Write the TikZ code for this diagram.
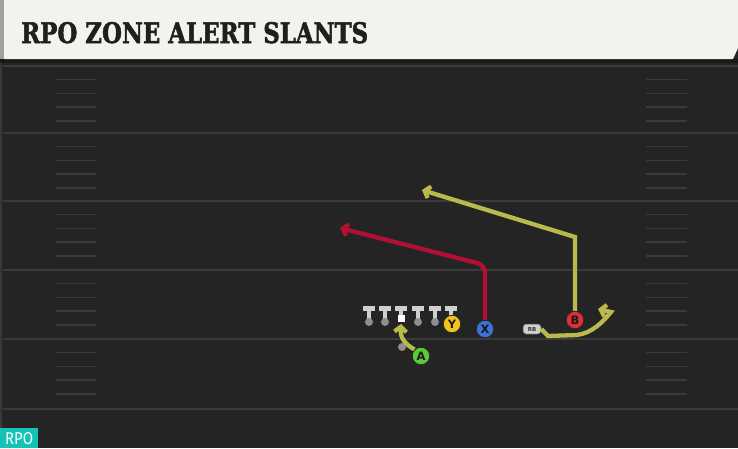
\documentclass[tikz,border=0pt]{standalone}
\usepackage{fontspec}
\setmainfont{DejaVu Sans}
\newfontfamily\titlefont{DejaVu Serif}[BoldFeatures={FakeBold=2}]
\newfontfamily\badgefont{Fira Sans}
\usetikzlibrary{arrows.meta}
\definecolor{fieldc}{HTML}{242424}
\definecolor{yardc}{HTML}{3A3A3A}
\definecolor{creamc}{HTML}{F4F2EC}
\definecolor{stripc}{HTML}{A0A0A0}
\definecolor{yelroute}{HTML}{BABA4C}
\definecolor{redroute}{HTML}{B21032}
\definecolor{cA}{HTML}{5DC83A}
\definecolor{cY}{HTML}{F2C51C}
\definecolor{cX}{HTML}{3A72D6}
\definecolor{cB}{HTML}{DE2F3A}
\definecolor{tealc}{HTML}{14C3B5}
\definecolor{tbar}{HTML}{CFCFCF}
\definecolor{tdot}{HTML}{8E8E8E}
\begin{document}
\begin{tikzpicture}[x=1pt,y=-1pt,
  yardline/.style={draw=yardc, line width=2pt},
  hashmark/.style={draw=yardc, line width=1.5pt},
  routebase/.style={line width=4.3pt, -{Straight Barb[length=5pt,width=12pt]}},
  yroute/.style={routebase, draw=yelroute},
  rroute/.style={routebase, draw=redroute},
  player/.style={circle, draw=black!85, line width=0.8pt, minimum size=17.5pt, inner sep=0pt,
    font=\bfseries\fontsize{11.5}{11.5}\selectfont, text=black!90},
]
\useasboundingbox (0,0) rectangle (738,448);
\fill[fieldc] (0,0) rectangle (738,448);
% left edge
\draw[yardc, line width=2pt] (1,59) -- (1,448);
% yard lines
\foreach \y in {66,133,201,270,339,409} \draw[yardline] (3,\y) -- (738,\y);
% hash marks
\foreach \y in {66,133,201,270,339} {
  \foreach \k in {1,2,3,4} {
    \draw[hashmark] (56,\y+13.7*\k) -- (96,\y+13.7*\k);
    \draw[hashmark] (646,\y+13.7*\k) -- (687,\y+13.7*\k);
  }
}
% title bar
\fill[black!90] (0,59) rectangle (738,63);
\fill[creamc] (4,0) -- (738,0) -- (738,48) -- (733,59) -- (4,59) -- cycle;
\fill[stripc] (0,0) rectangle (4,59);
\node[anchor=base west, inner sep=0pt, text=black!88] (title) at (21,43)
  {\resizebox{347pt}{21pt}{\titlefont\bfseries RPO ZONE ALERT SLANTS}};
% badge
\fill[tealc] (0,428) rectangle (38,448);
\node[anchor=base west, inner sep=0pt, text=white] (badge) at (5,444)
  {\resizebox{28pt}{12pt}{\badgefont RPO}};
% offensive line
\foreach \x in {369,385,418,435,451} {
  \fill[tbar] (\x-5.8,306) rectangle (\x+5.8,311);
  \fill[tbar] (\x-2,310) rectangle (\x+2,320);
  \fill[tdot] (\x,322) circle (4);
}
\fill[tbar] (401-5.8,306) rectangle (401+5.8,311);
\fill[tbar] (401-2,310) rectangle (401+2,315);
\fill[white] (397.5,314.5) rectangle (405,322);
\coordinate (snap) at (401,324);
% gray dot
\fill[tdot] (402,347) circle (4);
% skill players
\node[player, fill=cY] (Y) at (452,324) {Y};
\node[player, fill=cX] (X) at (485,329) {X};
\node[player, fill=cB] (B) at (575,320) {B};
\node[player, fill=cA] (A) at (421,356) {A};
\node[fill=tbar, draw=black!70, line width=0.5pt, rounded corners=3pt, minimum width=18pt, minimum height=10pt,
  inner sep=0pt, font=\bfseries\fontsize{5.5}{5.5}\selectfont, text=black!80] (RB) at (532,329) {RB};
% route waypoints
\coordinate (xcut) at (485,265);
\coordinate (xend) at (340,228);
\coordinate (bcut) at (575,237);
\coordinate (bend) at (422,190);
\coordinate (rb1) at (548,336);
\coordinate (rb2) at (577,335);
\coordinate (rb3) at (611,312);
\coordinate (rbend) at (598,309);
% routes
\draw[yroute] (A.north west) .. controls (405,344) and (400,338) .. (snap);
\draw[rroute, rounded corners=8pt] (X.north) -- (xcut) -- (xend);
\draw[yroute] (B.north) -- (bcut) -- (bend);
\draw[yroute] (RB.east) -- (rb1) -- (rb2) .. controls (592,333) and (603,322) .. (rb3) -- (rbend);
% redraw players on top
\node[player, fill=cX] at (X) {X};
\node[player, fill=cB] at (B) {B};
\node[player, fill=cA] at (A) {A};
\end{tikzpicture}
\end{document}
